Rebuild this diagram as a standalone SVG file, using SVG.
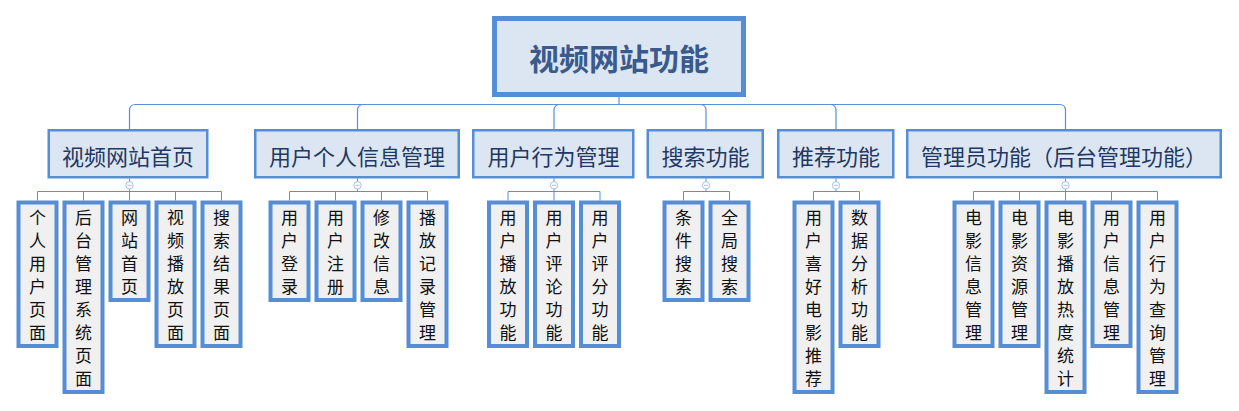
<svg xmlns="http://www.w3.org/2000/svg" width="1239" height="411" viewBox="0 0 1239 411">
<style>
.root{fill:#dce6f2;stroke:#558ed5;stroke-width:5}
.rt{font-family:"Noto Sans CJK SC","Noto Sans",sans-serif;font-size:30px;font-weight:bold;fill:#3a5a8c;text-anchor:middle;dominant-baseline:central}
.l2{fill:#dce6f2;stroke:#558ed5;stroke-width:2.5}
.t2{font-family:"Noto Sans CJK SC","Noto Sans",sans-serif;font-size:22px;fill:#1f3864;text-anchor:middle;dominant-baseline:central}
.l3{fill:#f0f0f0;stroke:#558ed5;stroke-width:4}
.t3{font-family:"Noto Sans CJK SC","Noto Sans",sans-serif;font-size:17px;fill:#111;text-anchor:middle;dominant-baseline:central}
.c{fill:none;stroke:#5b8fd6;stroke-width:1.2}
.cc{fill:none;stroke:#5b8fd6;stroke-width:1}
.tog{fill:#fff;stroke:#a9bde6;stroke-width:1}
.tm{stroke:#a9bde6;stroke-width:1}
</style>
<defs>
<g id="toggle"><circle class="tog" cx="0" cy="0" r="3.7"/><line class="tm" x1="-2" y1="0" x2="2" y2="0"/></g>
</defs>

<g id="connectors">
<path class="c" d="M619,97 V104.5"/>
<path class="c" d="M129.5,129 V110.5 Q129.5,104.5 135.5,104.5 H1059.5 Q1065.5,104.5 1065.5,110.5 V129"/>
<path class="c" d="M363.5,104.5 Q357.5,104.5 357.5,110.5 V129"/>
<path class="c" d="M560,104.5 Q554,104.5 554,110.5 V129"/>
<path class="c" d="M700,104.5 Q706,104.5 706,110.5 V129"/>
<path class="c" d="M830,104.5 Q836,104.5 836,110.5 V129"/>
<path class="cc" d="M129.5,178.5 V191.5 M37.5,191.5 H221.5 M37.5,191.5 V200.5 M83.5,191.5 V200.5 M129.5,191.5 V200.5 M175.5,191.5 V200.5 M221.5,191.5 V200.5"/>
<path class="cc" d="M357.5,178.5 V191.5 M289.5,191.5 H427.5 M289.5,191.5 V200.5 M335.5,191.5 V200.5 M381.5,191.5 V200.5 M427.5,191.5 V200.5"/>
<path class="cc" d="M554,178.5 V191.5 M508,191.5 H600 M508,191.5 V200.5 M554,191.5 V200.5 M600,191.5 V200.5"/>
<path class="cc" d="M706,178.5 V191.5 M683.5,191.5 H729.5 M683.5,191.5 V200.5 M729.5,191.5 V200.5"/>
<path class="cc" d="M836,178.5 V191.5 M813.5,191.5 H859.5 M813.5,191.5 V200.5 M859.5,191.5 V200.5"/>
<path class="cc" d="M1065.5,178.5 V191.5 M973.5,191.5 H1157.5 M973.5,191.5 V200.5 M1019.5,191.5 V200.5 M1065.5,191.5 V200.5 M1111.5,191.5 V200.5 M1157.5,191.5 V200.5"/>
<use href="#toggle" x="129.5" y="185.3"/>
<use href="#toggle" x="357.5" y="185.3"/>
<use href="#toggle" x="554" y="185.3"/>
<use href="#toggle" x="706" y="185.3"/>
<use href="#toggle" x="836" y="185.3"/>
<use href="#toggle" x="1065.5" y="185.3"/>
</g>

<g id="root"><rect class="root" x="494.5" y="18.5" width="249" height="76"/><text class="rt" x="619" y="57">视频网站功能</text></g>

<g id="n-home"><rect class="l2" x="48.75" y="130.25" width="158.5" height="47"/><text class="t2" x="128" y="154.5">视频网站首页</text></g>
<g id="n-user"><rect class="l2" x="255.25" y="130.25" width="203.5" height="47"/><text class="t2" x="357" y="154.5">用户个人信息管理</text></g>
<g id="n-behavior"><rect class="l2" x="473.25" y="130.25" width="160" height="47"/><text class="t2" x="553.5" y="154.5">用户行为管理</text></g>
<g id="n-search"><rect class="l2" x="647.75" y="130.25" width="115" height="47"/><text class="t2" x="705.5" y="154.5">搜索功能</text></g>
<g id="n-recommend"><rect class="l2" x="778.25" y="130.25" width="115" height="47"/><text class="t2" x="836" y="154.5">推荐功能</text></g>
<g id="n-admin"><rect class="l2" x="907.25" y="130.25" width="313.5" height="47"/><text class="t2" x="1064" y="154.5">管理员功能（后台管理功能）</text></g>

<g id="c-1-1"><rect class="l3" x="18.5" y="202.5" width="38" height="143.5"/><text class="t3"><tspan x="37.5" y="216">个</tspan><tspan x="37.5" dy="23">人</tspan><tspan x="37.5" dy="23">用</tspan><tspan x="37.5" dy="23">户</tspan><tspan x="37.5" dy="23">页</tspan><tspan x="37.5" dy="23">面</tspan></text></g>
<g id="c-1-2"><rect class="l3" x="64.5" y="202.5" width="38" height="189.5"/><text class="t3"><tspan x="83.5" y="216">后</tspan><tspan x="83.5" dy="23">台</tspan><tspan x="83.5" dy="23">管</tspan><tspan x="83.5" dy="23">理</tspan><tspan x="83.5" dy="23">系</tspan><tspan x="83.5" dy="23">统</tspan><tspan x="83.5" dy="23">页</tspan><tspan x="83.5" dy="23">面</tspan></text></g>
<g id="c-1-3"><rect class="l3" x="110.5" y="202.5" width="38" height="97.5"/><text class="t3"><tspan x="129.5" y="216">网</tspan><tspan x="129.5" dy="23">站</tspan><tspan x="129.5" dy="23">首</tspan><tspan x="129.5" dy="23">页</tspan></text></g>
<g id="c-1-4"><rect class="l3" x="156.5" y="202.5" width="38" height="143.5"/><text class="t3"><tspan x="175.5" y="216">视</tspan><tspan x="175.5" dy="23">频</tspan><tspan x="175.5" dy="23">播</tspan><tspan x="175.5" dy="23">放</tspan><tspan x="175.5" dy="23">页</tspan><tspan x="175.5" dy="23">面</tspan></text></g>
<g id="c-1-5"><rect class="l3" x="202.5" y="202.5" width="38" height="143.5"/><text class="t3"><tspan x="221.5" y="216">搜</tspan><tspan x="221.5" dy="23">索</tspan><tspan x="221.5" dy="23">结</tspan><tspan x="221.5" dy="23">果</tspan><tspan x="221.5" dy="23">页</tspan><tspan x="221.5" dy="23">面</tspan></text></g>

<g id="c-2-1"><rect class="l3" x="270.5" y="202.5" width="38" height="97.5"/><text class="t3"><tspan x="289.5" y="216">用</tspan><tspan x="289.5" dy="23">户</tspan><tspan x="289.5" dy="23">登</tspan><tspan x="289.5" dy="23">录</tspan></text></g>
<g id="c-2-2"><rect class="l3" x="316.5" y="202.5" width="38" height="97.5"/><text class="t3"><tspan x="335.5" y="216">用</tspan><tspan x="335.5" dy="23">户</tspan><tspan x="335.5" dy="23">注</tspan><tspan x="335.5" dy="23">册</tspan></text></g>
<g id="c-2-3"><rect class="l3" x="362.5" y="202.5" width="38" height="97.5"/><text class="t3"><tspan x="381.5" y="216">修</tspan><tspan x="381.5" dy="23">改</tspan><tspan x="381.5" dy="23">信</tspan><tspan x="381.5" dy="23">息</tspan></text></g>
<g id="c-2-4"><rect class="l3" x="408.5" y="202.5" width="38" height="143.5"/><text class="t3"><tspan x="427.5" y="216">播</tspan><tspan x="427.5" dy="23">放</tspan><tspan x="427.5" dy="23">记</tspan><tspan x="427.5" dy="23">录</tspan><tspan x="427.5" dy="23">管</tspan><tspan x="427.5" dy="23">理</tspan></text></g>

<g id="c-3-1"><rect class="l3" x="489" y="202.5" width="38" height="143.5"/><text class="t3"><tspan x="508" y="216">用</tspan><tspan x="508" dy="23">户</tspan><tspan x="508" dy="23">播</tspan><tspan x="508" dy="23">放</tspan><tspan x="508" dy="23">功</tspan><tspan x="508" dy="23">能</tspan></text></g>
<g id="c-3-2"><rect class="l3" x="535" y="202.5" width="38" height="143.5"/><text class="t3"><tspan x="554" y="216">用</tspan><tspan x="554" dy="23">户</tspan><tspan x="554" dy="23">评</tspan><tspan x="554" dy="23">论</tspan><tspan x="554" dy="23">功</tspan><tspan x="554" dy="23">能</tspan></text></g>
<g id="c-3-3"><rect class="l3" x="581" y="202.5" width="38" height="143.5"/><text class="t3"><tspan x="600" y="216">用</tspan><tspan x="600" dy="23">户</tspan><tspan x="600" dy="23">评</tspan><tspan x="600" dy="23">分</tspan><tspan x="600" dy="23">功</tspan><tspan x="600" dy="23">能</tspan></text></g>

<g id="c-4-1"><rect class="l3" x="664.5" y="202.5" width="38" height="97.5"/><text class="t3"><tspan x="683.5" y="216">条</tspan><tspan x="683.5" dy="23">件</tspan><tspan x="683.5" dy="23">搜</tspan><tspan x="683.5" dy="23">索</tspan></text></g>
<g id="c-4-2"><rect class="l3" x="710.5" y="202.5" width="38" height="97.5"/><text class="t3"><tspan x="729.5" y="216">全</tspan><tspan x="729.5" dy="23">局</tspan><tspan x="729.5" dy="23">搜</tspan><tspan x="729.5" dy="23">索</tspan></text></g>

<g id="c-5-1"><rect class="l3" x="794.5" y="202.5" width="38" height="189.5"/><text class="t3"><tspan x="813.5" y="216">用</tspan><tspan x="813.5" dy="23">户</tspan><tspan x="813.5" dy="23">喜</tspan><tspan x="813.5" dy="23">好</tspan><tspan x="813.5" dy="23">电</tspan><tspan x="813.5" dy="23">影</tspan><tspan x="813.5" dy="23">推</tspan><tspan x="813.5" dy="23">荐</tspan></text></g>
<g id="c-5-2"><rect class="l3" x="840.5" y="202.5" width="38" height="143.5"/><text class="t3"><tspan x="859.5" y="216">数</tspan><tspan x="859.5" dy="23">据</tspan><tspan x="859.5" dy="23">分</tspan><tspan x="859.5" dy="23">析</tspan><tspan x="859.5" dy="23">功</tspan><tspan x="859.5" dy="23">能</tspan></text></g>

<g id="c-6-1"><rect class="l3" x="954.5" y="202.5" width="38" height="143.5"/><text class="t3"><tspan x="973.5" y="216">电</tspan><tspan x="973.5" dy="23">影</tspan><tspan x="973.5" dy="23">信</tspan><tspan x="973.5" dy="23">息</tspan><tspan x="973.5" dy="23">管</tspan><tspan x="973.5" dy="23">理</tspan></text></g>
<g id="c-6-2"><rect class="l3" x="1000.5" y="202.5" width="38" height="143.5"/><text class="t3"><tspan x="1019.5" y="216">电</tspan><tspan x="1019.5" dy="23">影</tspan><tspan x="1019.5" dy="23">资</tspan><tspan x="1019.5" dy="23">源</tspan><tspan x="1019.5" dy="23">管</tspan><tspan x="1019.5" dy="23">理</tspan></text></g>
<g id="c-6-3"><rect class="l3" x="1046.5" y="202.5" width="38" height="189.5"/><text class="t3"><tspan x="1065.5" y="216">电</tspan><tspan x="1065.5" dy="23">影</tspan><tspan x="1065.5" dy="23">播</tspan><tspan x="1065.5" dy="23">放</tspan><tspan x="1065.5" dy="23">热</tspan><tspan x="1065.5" dy="23">度</tspan><tspan x="1065.5" dy="23">统</tspan><tspan x="1065.5" dy="23">计</tspan></text></g>
<g id="c-6-4"><rect class="l3" x="1092.5" y="202.5" width="38" height="143.5"/><text class="t3"><tspan x="1111.5" y="216">用</tspan><tspan x="1111.5" dy="23">户</tspan><tspan x="1111.5" dy="23">信</tspan><tspan x="1111.5" dy="23">息</tspan><tspan x="1111.5" dy="23">管</tspan><tspan x="1111.5" dy="23">理</tspan></text></g>
<g id="c-6-5"><rect class="l3" x="1138.5" y="202.5" width="38" height="189.5"/><text class="t3"><tspan x="1157.5" y="216">用</tspan><tspan x="1157.5" dy="23">户</tspan><tspan x="1157.5" dy="23">行</tspan><tspan x="1157.5" dy="23">为</tspan><tspan x="1157.5" dy="23">查</tspan><tspan x="1157.5" dy="23">询</tspan><tspan x="1157.5" dy="23">管</tspan><tspan x="1157.5" dy="23">理</tspan></text></g>
</svg>
